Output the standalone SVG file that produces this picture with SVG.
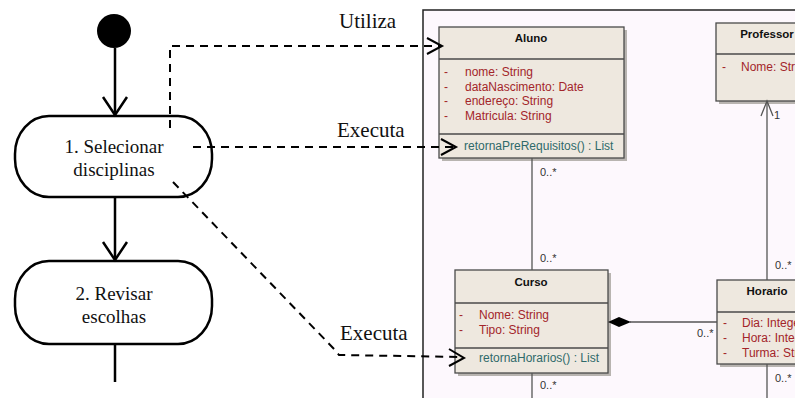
<svg xmlns="http://www.w3.org/2000/svg" width="795" height="398" viewBox="0 0 795 398">
<defs>
<style>
.act{fill:#fff;stroke:#000;stroke-width:2.5}
.actt{font-family:"Liberation Serif",serif;font-size:19px;fill:#111;text-anchor:middle}
.lbl{font-family:"Liberation Serif",serif;font-size:21px;fill:#111}
.flow{stroke:#000;stroke-width:2.5;fill:none}
.dash{stroke:#000;stroke-width:2;fill:none;stroke-dasharray:8 6}
.head{stroke:#000;stroke-width:2;fill:none}
.box{fill:#eee8df;stroke:#4a4a4a;stroke-width:1.3}
.shadow{fill:#b8b4b0}
.div{stroke:#4a4a4a;stroke-width:1.3}
.hdr{font-family:"Liberation Sans",Arial,sans-serif;font-size:11.5px;font-weight:bold;fill:#111;text-anchor:middle}
.attr{font-family:"Liberation Sans",Arial,sans-serif;font-size:12px;fill:#a3252a}
.meth{font-family:"Liberation Sans",Arial,sans-serif;font-size:12px;fill:#2f6a6a}
.mult{font-family:"Liberation Sans",Arial,sans-serif;font-size:11px;fill:#333}
.assoc{stroke:#555;stroke-width:1.3;fill:none}
</style>
</defs>
<rect width="795" height="398" fill="#fff"/>
<rect x="423" y="10" width="380" height="400" fill="#fdf8fd" stroke="#222" stroke-width="1.5"/>

<g id="start"><circle cx="114" cy="31" r="17" fill="#000"/></g>

<g id="act1">
  <rect class="act" x="15" y="116" width="197" height="81" rx="34" ry="38"/>
  <text class="actt" x="114" y="153">1. Selecionar</text>
  <text class="actt" x="114" y="176">disciplinas</text>
</g>
<g id="act2">
  <rect class="act" x="15" y="261" width="197" height="83" rx="34" ry="38"/>
  <text class="actt" x="114" y="300">2. Revisar</text>
  <text class="actt" x="114" y="323">escolhas</text>
</g>

<g id="aluno">
  <rect class="shadow" x="442" y="30" width="185" height="131"/>
  <rect class="box" x="439" y="27" width="185" height="131"/>
  <line class="div" x1="439" y1="59" x2="624" y2="59"/>
  <line class="div" x1="439" y1="134" x2="624" y2="134"/>
  <text class="hdr" x="531" y="42">Aluno</text>
  <text class="attr" x="444" y="76">-</text><text class="attr" x="465" y="76">nome: String</text>
  <text class="attr" x="444" y="91">-</text><text class="attr" x="465" y="91">dataNascimento: Date</text>
  <text class="attr" x="444" y="105">-</text><text class="attr" x="465" y="105">endereço: String</text>
  <text class="attr" x="444" y="120">-</text><text class="attr" x="465" y="120">Matricula: String</text>
  <text class="meth" x="464" y="150">retornaPreRequisitos() : List</text>
</g>

<g id="professor">
  <rect class="shadow" x="719" y="26" width="102" height="78"/>
  <rect class="box" x="716" y="23" width="102" height="78"/>
  <line class="div" x1="716" y1="54" x2="818" y2="54"/>
  <text class="hdr" x="767" y="38">Professor</text>
  <text class="attr" x="722" y="71">-</text><text class="attr" x="741" y="71">Nome: String</text>
</g>

<g id="curso">
  <rect class="shadow" x="458" y="273" width="153" height="103"/>
  <rect class="box" x="455" y="270" width="153" height="103"/>
  <line class="div" x1="455" y1="303" x2="608" y2="303"/>
  <line class="div" x1="455" y1="348" x2="608" y2="348"/>
  <text class="hdr" x="531" y="286">Curso</text>
  <text class="attr" x="459" y="319">-</text><text class="attr" x="479" y="319">Nome: String</text>
  <text class="attr" x="459" y="334">-</text><text class="attr" x="479" y="334">Tipo: String</text>
  <text class="meth" x="479" y="362">retornaHorarios() : List</text>
</g>

<g id="horario">
  <rect class="shadow" x="720" y="283" width="100" height="84"/>
  <rect class="box" x="717" y="280" width="100" height="84"/>
  <line class="div" x1="717" y1="312" x2="817" y2="312"/>
  <text class="hdr" x="767" y="295">Horario</text>
  <text class="attr" x="723" y="327">-</text><text class="attr" x="742" y="327">Dia: Integer</text>
  <text class="attr" x="723" y="342">-</text><text class="attr" x="742" y="342">Hora: Integer</text>
  <text class="attr" x="723" y="357">-</text><text class="attr" x="742" y="357">Turma: String</text>
</g>

<g id="connectors">
  <line class="flow" x1="115" y1="48" x2="115" y2="115"/>
  <polyline class="flow" points="103,97 115,115 127,97"/>
  <line class="flow" x1="115" y1="197" x2="115" y2="260"/>
  <polyline class="flow" points="103,242 115,260 127,242"/>
  <line class="flow" x1="115" y1="344" x2="115" y2="382"/>
  <polyline class="dash" points="170,128 170,46 441,46"/>
  <polyline class="head" points="427,38 442,46 427,54"/>
  <line class="dash" x1="193" y1="147" x2="455" y2="147"/>
  <polyline class="head" points="441,139 456,147 441,155"/>
  <polyline class="dash" points="173,182 335,350 339,355 463,357"/>
  <polyline class="head" points="449,349 464,358 449,366"/>
  <line class="assoc" x1="532" y1="158" x2="532" y2="270"/>
  <line class="assoc" x1="532" y1="373" x2="532" y2="400"/>
  <line class="assoc" x1="630" y1="322" x2="717" y2="322"/>
  <polygon points="608,322 619,317 631,322 619,327" fill="#000"/>
  <line class="assoc" x1="767" y1="101" x2="767" y2="280"/>
  <polyline class="assoc" points="761,116 767,101 773,116"/>
  <line class="assoc" x1="767" y1="364" x2="767" y2="400"/>
</g>
<text class="lbl" x="339" y="28">Utiliza</text>
<text class="lbl" x="337" y="137">Executa</text>
<text class="lbl" x="340" y="340">Executa</text>
<text class="mult" x="540" y="176">0..*</text>
<text class="mult" x="540" y="262">0..*</text>
<text class="mult" x="540" y="389">0..*</text>
<text class="mult" x="697" y="337">0..*</text>
<text class="mult" x="775" y="269">0..*</text>
<text class="mult" x="775" y="382">0..*</text>
<text class="mult" x="774" y="119">1</text>
</svg>
